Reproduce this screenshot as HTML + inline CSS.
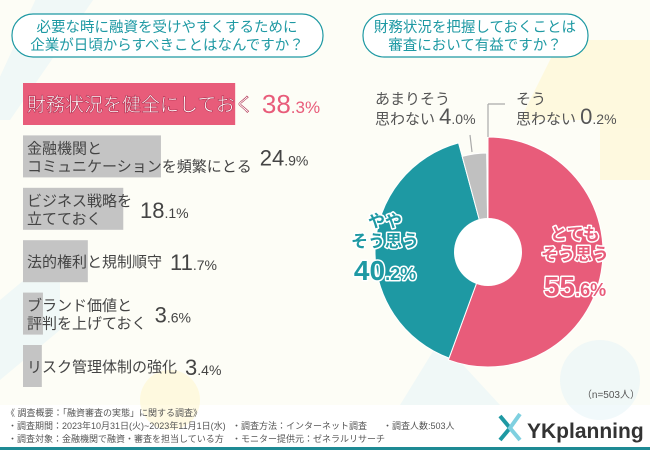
<!DOCTYPE html>
<html><head><meta charset="utf-8"><style>
body{margin:0;width:650px;height:450px;overflow:hidden;background:#fff;font-family:"Liberation Sans","Noto Sans CJK JP",sans-serif}
svg{display:block}
</style></head><body>
<svg width="650" height="450" viewBox="0 0 650 450" id="svg">
<rect width="650" height="405" fill="#fdfdf6"/>
<g opacity="0.5">
<path d="M40 -10 L100 -10 L10 120 L-20 120Z" fill="#e3f3f7"/>
<path d="M560 40 L650 40 L650 120 L520 120Z" fill="#fff6c8"/>
<rect x="600" y="120" width="60" height="60" fill="#fff6c8"/>
<path d="M0 300 L60 250 L60 330 L0 380Z" fill="#e3f3f7"/>
<circle cx="170" cy="400" r="30" fill="#fff6c8"/>
<path d="M400 405 L440 340 L500 405Z" fill="#e3f3f7"/>
<circle cx="600" cy="380" r="40" fill="#e3f3f7"/>
</g>
<rect x="12" y="14" width="311" height="43" rx="21" fill="#fff" stroke="#1e99a3" stroke-width="1.2"/>
<text x="167" y="32" font-size="14.5" fill="#1e99a3" text-anchor="middle">必要な時に融資を受けやすくするために</text>
<text x="167" y="50" font-size="14.5" fill="#1e99a3" text-anchor="middle">企業が日頃からすべきことはなんですか？</text>
<rect x="363" y="14" width="225" height="43" rx="21" fill="#fff" stroke="#1e99a3" stroke-width="1.2"/>
<text x="475" y="32" font-size="14.5" fill="#1e99a3" text-anchor="middle">財務状況を把握しておくことは</text>
<text x="475" y="50" font-size="14.5" fill="#1e99a3" text-anchor="middle">審査において有益ですか？</text>
<g id="bars"></g>
<g id="pie"></g>
<line x1="488" y1="137" x2="488" y2="104" stroke="#aaa" stroke-width="1.2"/>
<line x1="488" y1="104" x2="505" y2="104" stroke="#aaa" stroke-width="1.2"/>
<line x1="472" y1="152" x2="470" y2="135" stroke="#aaa" stroke-width="1.2"/>
<text x="375" y="104" font-size="15" fill="#555">あまりそう</text>
<text x="375" y="124" font-size="15" fill="#555">思わない <tspan font-size="22">4</tspan><tspan font-size="14">.0%</tspan></text>
<text x="516" y="104" font-size="15" fill="#555">そう</text>
<text x="516" y="124" font-size="15" fill="#555">思わない <tspan font-size="22">0</tspan><tspan font-size="14">.2%</tspan></text>
<g font-weight="bold" stroke="#fff" stroke-width="3" paint-order="stroke" stroke-linejoin="round">
<text x="385" y="227" font-size="17" fill="#1e99a3" text-anchor="middle">やや</text>
<text x="385" y="247" font-size="17" fill="#1e99a3" text-anchor="middle">そう思う</text>
<text x="385" y="280" font-size="28" fill="#1e99a3" text-anchor="middle">40<tspan font-size="18">.2%</tspan></text>
<text x="575" y="240" font-size="17" fill="#e85c7a" text-anchor="middle">とても</text>
<text x="575" y="260" font-size="17" fill="#e85c7a" text-anchor="middle">そう思う</text>
<text x="575" y="296" font-size="28" fill="#e85c7a" text-anchor="middle">55<tspan font-size="18">.6%</tspan></text>
</g>
<text x="640" y="398" font-size="10" fill="#555" text-anchor="end">（n=503人）</text>
<g font-size="9" fill="#555">
<text x="6" y="416">《 調査概要：「融資審査の実態」に関する調査》</text>
<text x="8" y="429">・調査期間：2023年10月31日(火)~2023年11月1日(水)</text>
<text x="8" y="442">・調査対象：金融機関で融資・審査を担当している方</text>
<text x="232" y="429">・調査方法：インターネット調査</text>
<text x="232" y="442">・モニター提供元：ゼネラルリサーチ</text>
<text x="383" y="429">・調査人数:503人</text>
</g>
<g>
<path d="M500 416 L510 428 L500 440" stroke="#1e99a3" stroke-width="4" fill="none"/>
<path d="M520 414 L510 428 L520 440" stroke="#7fd0e0" stroke-width="4" fill="none"/>
<text x="527" y="438" font-size="21" font-weight="bold" fill="#333">YKplanning</text>
</g>
<rect x="0" y="447" width="650" height="3" fill="#1e8a94"/>
</svg>
<script>
const barLabels=[["財務状況を健全にしておく"],["金融機関と","コミュニケーションを頻繁にとる"],["ビジネス戦略を","立てておく"],["法的権利と規制順守"],["ブランド価値と","評判を上げておく"],["リスク管理体制の強化"]];
const barValues=[38.3,24.9,18.1,11.7,3.6,3.4];
const pieLabels=["とてもそう思う","ややそう思う","あまりそう思わない","そう思わない"];
const pieValues=[55.6,40.2,4.0,0.2];
const NS="http://www.w3.org/2000/svg";
function mk(t,a,p){const e=document.createElementNS(NS,t);for(const k in a)e.setAttribute(k,a[k]);p.appendChild(e);return e;}
const xs=v=>v*5.54;
const bars=document.getElementById('bars');
barValues.forEach((v,i)=>{
  const y=83+i*52.4, w=xs(v), top=i===0;
  const r=mk('rect',{x:23,y:y,width:w,height:42,fill:top?'#e85c7a':'#c4c4c4'},bars);
  
  
  const L=barLabels[i];let maxLen=0;
  L.forEach((s,j)=>{
    const ty=L.length===1?y+27:y+18+j*18;
    const fs=top?19:15;
    const t=mk('text',{x:27,y:ty+(top?1:0),'font-size':fs,fill:top?'#fff':'#444'},bars);
    if(top){t.setAttribute('stroke','#b03050');t.setAttribute('stroke-width','0.6');}
    t.textContent=s;
    
    
    maxLen=Math.max(maxLen,t.getComputedTextLength());
  });
  const tx=Math.max(27+maxLen+8,23+w+6);
  const s=String(v).split('.');
  const vt=mk('text',{x:tx,y:y+30,'font-size':top?26:22,fill:top?'#e85c7a':'#444'},bars);
  vt.innerHTML=s[0]+'<tspan font-size="'+(top?17:14)+'">.'+s[1]+'%</tspan>';
  
  
});
const pie=document.getElementById('pie');
const cx=488,cy=252,rin=34,radii=[115,113,99,99],cols=['#e85c7a','#1e99a3','#c0c0c0','#e8e8e8'];
const tot=pieValues.reduce((a,b)=>a+b,0);let a0=0;
pieValues.forEach((v,i)=>{
  const a1=a0+v/tot*2*Math.PI,R=radii[i];
  const P=(a,r)=>[cx+r*Math.sin(a),cy-r*Math.cos(a)];
  const [x0,y0]=P(a0,R),[x1,y1]=P(a1,R),lg=(a1-a0)>Math.PI?1:0;
  const p=mk('path',{d:`M${cx} ${cy}L${x0} ${y0}A${R} ${R} 0 ${lg} 1 ${x1} ${y1}Z`,fill:cols[i],stroke:'#fff','stroke-width':1},pie);
  
  
  a0=a1;
});
const h=mk('circle',{cx:cx,cy:cy,r:rin,fill:'#fff'},pie);


</script>
</body></html>
